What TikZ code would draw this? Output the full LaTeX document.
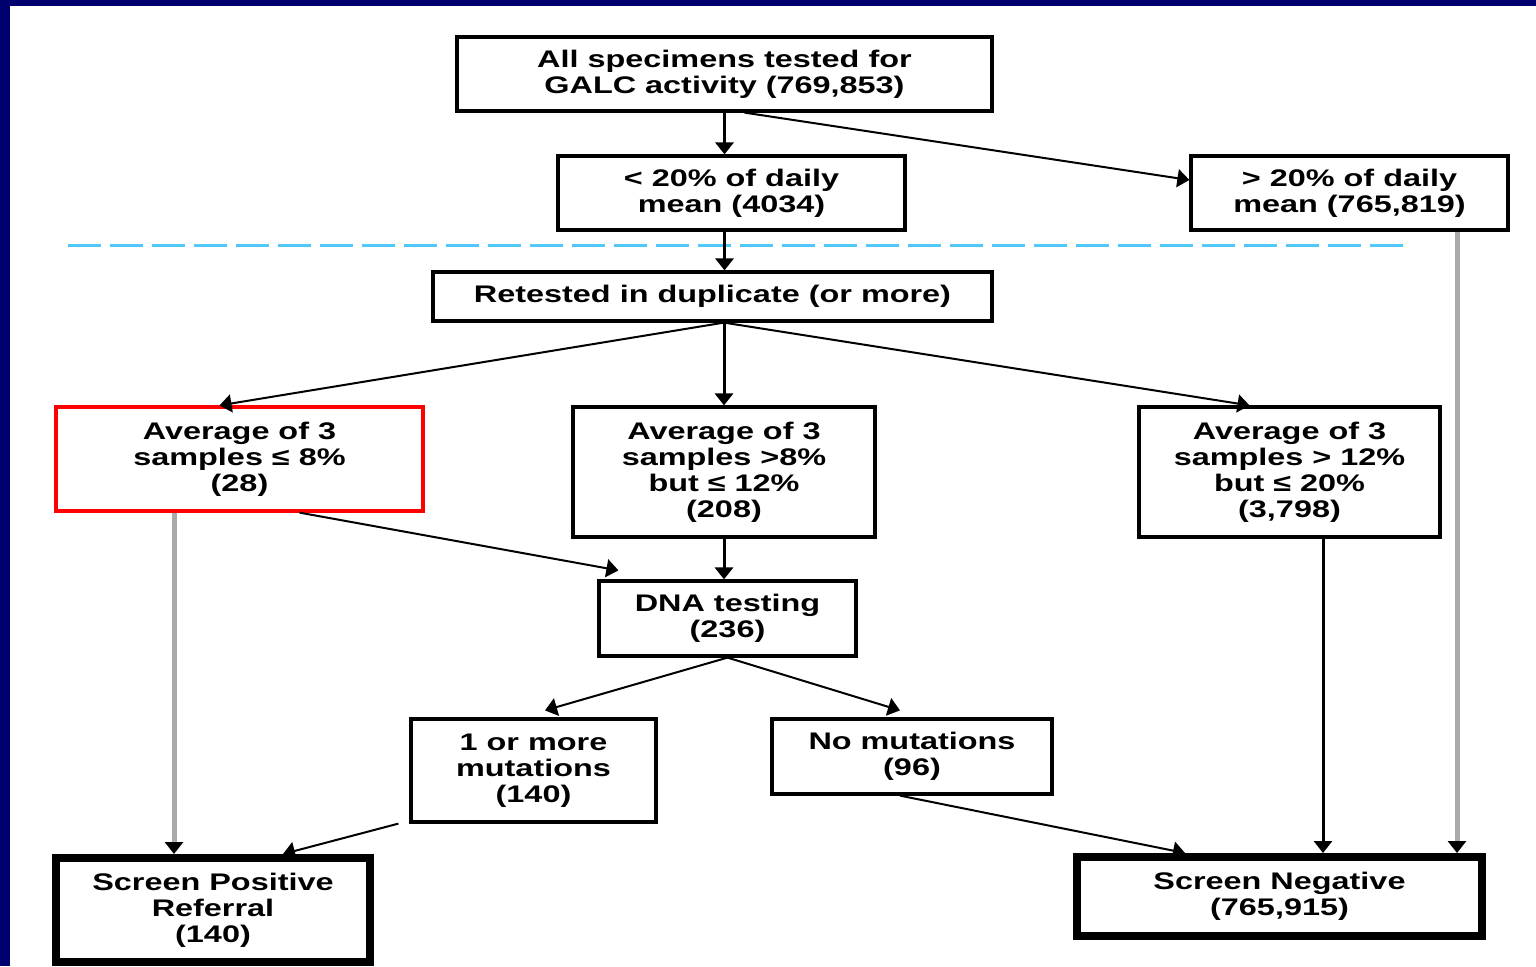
\documentclass[tikz,border=0pt]{standalone}
\usepackage{fontspec}
\setmainfont{Liberation Sans}[FakeStretch=1.35]
\usetikzlibrary{arrows.meta}
\definecolor{navy}{RGB}{0,0,110}
\definecolor{dashblue}{RGB}{80,200,250}
\definecolor{linegray}{RGB}{170,170,170}
\begin{document}
\begin{tikzpicture}[x=0.5pt,y=-0.5pt,
  box/.style={draw, line width=1.6pt, align=center, inner sep=0pt,
    font=\bfseries\fontsize{12}{13}\selectfont},
  thickbox/.style={box, line width=4pt},
  arr/.style={line width=1pt, -{Triangle[width=9pt,length=6pt]}},
  varr/.style={line width=1.5pt, -{Triangle[width=9pt,length=6pt]}},
  garr/.style={line width=2.5pt, draw=linegray, -{Triangle[width=9pt,length=6pt,color=black]}}
]
\useasboundingbox (0,0) rectangle (1536,966);
\fill[white] (0,0) rectangle (1536,966);
\fill[navy] (0,0) rectangle (10,966);
\fill[navy] (0,0) rectangle (1536,6);

\node[box, minimum width=267.5pt, minimum height=37pt] (top) at (724.5,74) {All specimens tested for\\GALC activity (769,853)};
\node[box, minimum width=173.5pt, minimum height=37pt] (lt) at (731.5,193) {< 20\% of daily\\mean (4034)};
\node[box, minimum width=158.5pt, minimum height=37pt] (gt) at (1349.5,193) {> 20\% of daily\\mean (765,819)};
\node[box, minimum width=279.5pt, minimum height=24.5pt] (ret) at (712.5,296.5) {Retested in duplicate (or more)};
\node[box, draw=red, minimum width=183.5pt, minimum height=52pt] (red) at (239.5,459) {Average of 3\\samples ≤ 8\%\\(28)};
\node[box, minimum width=151pt, minimum height=65pt] (mid) at (724,472) {Average of 3\\samples >8\%\\but ≤ 12\%\\(208)};
\node[box, minimum width=150.5pt, minimum height=65pt] (rgt) at (1289.5,472) {Average of 3\\samples > 12\%\\but ≤ 20\%\\(3,798)};
\node[box, minimum width=128.5pt, minimum height=37.5pt] (dna) at (727.5,618.5) {DNA testing\\(236)};
\node[box, minimum width=122.5pt, minimum height=51.5pt] (one) at (533.5,770.5) {1 or more\\mutations\\(140)};
\node[box, minimum width=140pt, minimum height=37.5pt] (nomu) at (912,756.5) {No mutations\\(96)};
\node[thickbox, minimum width=157pt, minimum height=52pt] (pos) at (213,910) {Screen Positive\\Referral\\(140)};
\node[thickbox, minimum width=202.5pt, minimum height=39.5pt] (neg) at (1279.5,896.5) {Screen Negative\\(765,915)};

\coordinate (dl) at (68,245);
\coordinate (dr) at (1410,245);
\draw[dashblue, line width=1.5pt, dash pattern=on 16.5pt off 4.5pt] (dl) -- (dr);

\draw[varr] (top.south) -- (top.south |- lt.north);
\draw[arr] ([xshift=10pt]top.south) -- ([yshift=6.5pt]gt.west);
\draw[varr] (top.south |- lt.south) -- (top.south |- ret.north);
\draw[arr] (ret.south -| mid.north) -- ([xshift=-10pt]red.north);
\draw[varr] (ret.south -| mid.north) -- (mid.north);
\draw[arr] (ret.south -| mid.north) -- ([xshift=-20pt]rgt.north);
\draw[arr] ([xshift=30pt]red.south) -- ([xshift=10.5pt,yshift=4.5pt]dna.north west);
\draw[varr] (mid.south) -- (mid.south |- dna.north);
\draw[arr] (dna.south) -- ([xshift=5.75pt,yshift=3.5pt]one.north);
\draw[arr] (dna.south) -- ([xshift=-6pt,yshift=3.5pt]nomu.north);
\draw[garr] ([xshift=-32.75pt]red.south) -- ([xshift=-32.75pt]red.south |- pos.north);
\draw[arr] ([xshift=-5.5pt]one.south west) -- ([xshift=35pt]pos.north);
\draw[arr] ([xshift=-6pt]nomu.south) -- ([xshift=-47.25pt]neg.north);
\draw[varr] ([xshift=16.75pt]rgt.south) -- ([xshift=16.75pt]rgt.south |- neg.north);
\draw[garr] ([xshift=53.75pt]gt.south) -- ([xshift=53.75pt]gt.south |- neg.north);
\end{tikzpicture}
\end{document}
